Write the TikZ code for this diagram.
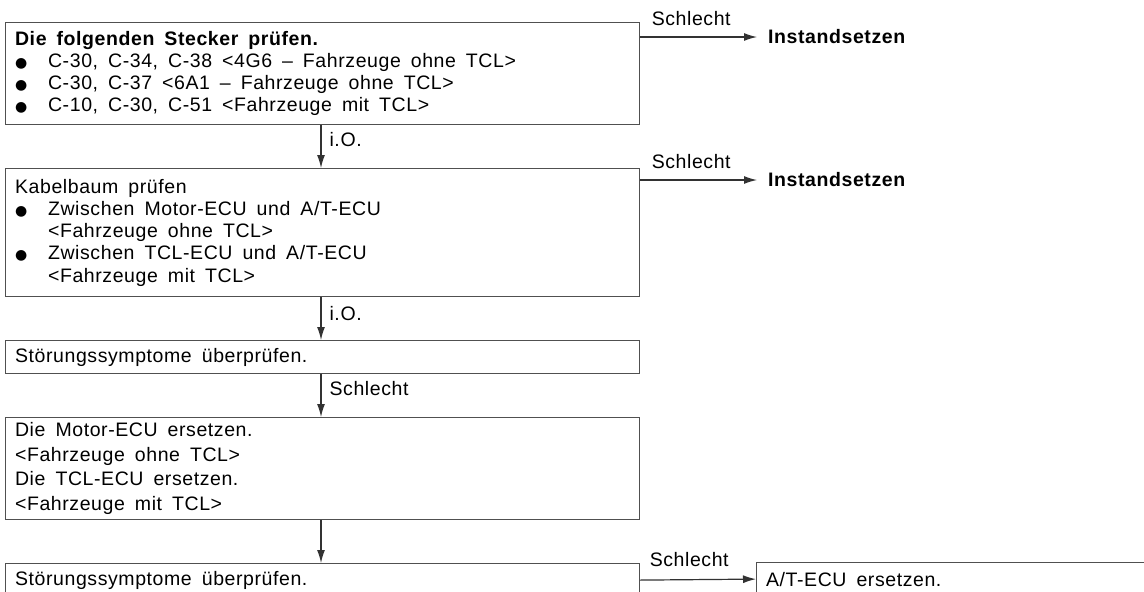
\documentclass[tikz,border=0pt]{standalone}
\usepackage{fontspec}
\setmainfont{Liberation Sans}[LetterSpace=3]
\newfontfamily\symf{DejaVu Sans}
\usetikzlibrary{arrows.meta,calc}
\definecolor{boxgray}{RGB}{80,80,80}
\definecolor{linegray}{RGB}{50,50,50}
\newcommand{\bul}{\makebox[33pt][l]{\symf\fontsize{14}{14}\selectfont ●}}
\newcommand{\ind}{\hspace*{33pt}}
\newcommand{\mkfont}[1]{\fontsize{19.5}{#1}\selectfont}
\newcommand{\txtfont}{\mkfont{22}}
\newcommand{\txtfontb}{\mkfont{22.3}}
\newcommand{\txtfontc}{\mkfont{24.5}}
\begin{document}
\begin{tikzpicture}[x=1pt,y=-1pt,
  box/.style={draw=boxgray, line width=1.2pt, anchor=north west, inner xsep=9.5pt, inner ysep=0pt,
    text width=615pt, align=left, font=\txtfont,
    execute at begin node={\spaceskip=10pt plus 2pt minus 1pt\relax}},
  lbl/.style={font=\txtfont, inner sep=0pt},
  res/.style={lbl, anchor=west, inner xsep=11pt, font=\txtfont\bfseries},
  arr/.style={draw=linegray, line width=1.2pt, -{Latex[length=13pt,width=8pt]}}]
\useasboundingbox (0,0) rectangle (1144,592);
\clip (0,0) rectangle (1144,592);
\coordinate (vx) at (321,0);

\node[box, minimum height=102pt] (b1) at (5,22) {\textbf{Die folgenden Stecker prüfen.}\\
\bul C-30, C-34, C-38 <4G6 – Fahrzeuge ohne TCL>\\
\bul C-30, C-37 <6A1 – Fahrzeuge ohne TCL>\\
\bul C-10, C-30, C-51 <Fahrzeuge mit TCL>};

\node[box, minimum height=128pt, font=\txtfontb] (b2) at (5,168) {Kabelbaum prüfen\\
\bul Zwischen Motor-ECU und A/T-ECU\\
\ind <Fahrzeuge ohne TCL>\\
\bul Zwischen TCL-ECU und A/T-ECU\\
\ind <Fahrzeuge mit TCL>};

\node[box, minimum height=33pt] (b3) at (5,340) {Störungssymptome überprüfen.};

\node[box, minimum height=102pt, font=\txtfontc] (b4) at (5,417) {Die Motor-ECU ersetzen.\\
<Fahrzeuge ohne TCL>\\
Die TCL-ECU ersetzen.\\
<Fahrzeuge mit TCL>};

\node[box, minimum height=33pt] (b5) at (5,563) {Störungssymptome überprüfen.};

\node[box, minimum height=33pt, text width=500pt] (r3) at (756,562) {A/T-ECU ersetzen.};

\node[res] (r1) at (757,37) {Instandsetzen};
\node[res] (r2) at (757,180) {Instandsetzen};

\draw[arr] (b1.north east |- r1.west) -- (r1.west)
  node[lbl, pos=0, anchor=base west, xshift=11pt, yshift=12pt] {Schlecht};
\draw[arr] (b2.north east |- r2.west) -- (r2.west)
  node[lbl, pos=0, anchor=base west, xshift=11pt, yshift=12pt] {Schlecht};
\draw[arr] (b5.east) -- (r3.west)
  node[lbl, pos=0, anchor=base west, xshift=9pt, yshift=14pt] {Schlecht};

\draw[arr] (b1.south -| vx) -- (b2.north -| vx)
  node[lbl, pos=0.33, anchor=west, xshift=8pt] {i.O.};
\draw[arr] (b2.south -| vx) -- (b3.north -| vx)
  node[lbl, pos=0.37, anchor=west, xshift=8pt] {i.O.};
\draw[arr] (b3.south -| vx) -- (b4.north -| vx)
  node[lbl, pos=0.34, anchor=west, xshift=8pt] {Schlecht};
\draw[arr] (b4.south -| vx) -- (b5.north -| vx);
\end{tikzpicture}
\end{document}
